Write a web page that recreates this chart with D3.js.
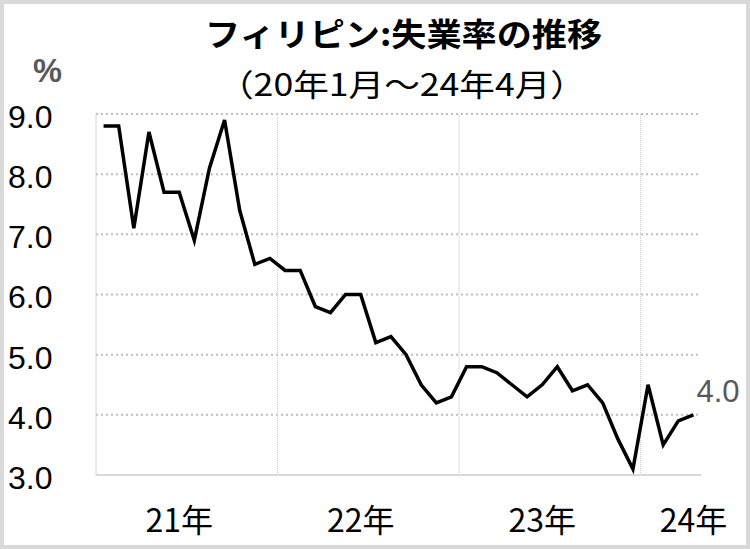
<!DOCTYPE html>
<html>
<head>
<meta charset="utf-8">
<script src="https://cdn.jsdelivr.net/npm/d3@7"></script>
<style>
  html, body { margin: 0; padding: 0; background: #fff; }
  svg { display: block; }
</style>
</head>
<body>
<svg id="chart" width="750" height="549"></svg>
<script>
// ---- data ----
const months = [
  "2021-01","2021-02","2021-03","2021-04","2021-05","2021-06","2021-07","2021-08","2021-09","2021-10","2021-11","2021-12",
  "2022-01","2022-02","2022-03","2022-04","2022-05","2022-06","2022-07","2022-08","2022-09","2022-10","2022-11","2022-12",
  "2023-01","2023-02","2023-03","2023-04","2023-05","2023-06","2023-07","2023-08","2023-09","2023-10","2023-11","2023-12",
  "2024-01","2024-02","2024-03","2024-04"
];
const unemployment = [
  8.8, 8.8, 7.1, 8.7, 7.7, 7.7, 6.9, 8.1, 8.9, 7.4, 6.5, 6.6,
  6.4, 6.4, 5.8, 5.7, 6.0, 6.0, 5.2, 5.3, 5.0, 4.5, 4.2, 4.3,
  4.8, 4.8, 4.7, 4.5, 4.3, 4.5, 4.8, 4.4, 4.5, 4.2, 3.6, 3.1,
  4.5, 3.5, 3.9, 4.0
];
const yearLabelMonths = ["2021-06", "2022-06", "2023-06", "2024-04"];
const yearLabels = ["21年", "22年", "23年", "24年"];
const yearStartMonths = ["2022-01", "2023-01", "2024-01"];
const yTicks = [3, 4, 5, 6, 7, 8, 9];
const title = "フィリピン:失業率の推移";
const subtitle = "（20年1月～24年4月）";
const unit = "%";

// ---- layout ----
const svg = d3.select("#chart");
const W = 750, H = 549;
const plot = { left: 96, right: 701, top: 114, bottom: 475 };

const x = d3.scaleBand().domain(months).range([plot.left, plot.right]).padding(0);
const y = d3.scaleLinear().domain([3, 9]).range([plot.bottom, plot.top]);
const cx = m => x(m) + x.bandwidth() / 2;

// outer frame
svg.append("rect")
  .attr("x", 2).attr("y", 2).attr("width", W - 4).attr("height", H - 4)
  .attr("fill", "#fff").attr("stroke", "#d9d9d9").attr("stroke-width", 4);

// horizontal gridlines (dotted)
svg.append("g").selectAll("line")
  .data(yTicks.filter(t => t > 3))
  .join("line")
  .attr("x1", plot.left).attr("x2", plot.right)
  .attr("y1", d => y(d)).attr("y2", d => y(d))
  .attr("stroke", "#bfbfbf").attr("stroke-width", 2)
  .attr("stroke-dasharray", "2,3");

// vertical gridlines at year boundaries
svg.append("g").selectAll("line")
  .data(yearStartMonths)
  .join("line")
  .attr("x1", d => x(d)).attr("x2", d => x(d))
  .attr("y1", plot.top).attr("y2", plot.bottom)
  .attr("stroke", "#c8c8c8").attr("stroke-width", 1)
  .attr("stroke-dasharray", "1,1");

// left axis line
svg.append("line")
  .attr("x1", plot.left).attr("x2", plot.left)
  .attr("y1", plot.top).attr("y2", plot.bottom)
  .attr("stroke", "#d0d0d0").attr("stroke-width", 1);

// bottom axis line
svg.append("line")
  .attr("x1", plot.left).attr("x2", plot.right)
  .attr("y1", plot.bottom).attr("y2", plot.bottom)
  .attr("stroke", "#d9d9d9").attr("stroke-width", 2);

// y axis labels
const yAxis = svg.append("g")
  .attr("transform", "translate(8,0)")
  .call(d3.axisRight(y).tickValues(yTicks).tickSize(0).tickPadding(0).tickFormat(d3.format(".1f")));
yAxis.select(".domain").remove();
yAxis.selectAll("text")
  .attr("dy", "0.42em")
  .attr("fill", "#000")
  .style("font-family", "'Liberation Sans', Arial, sans-serif")
  .style("font-size", "32px");

// x axis labels
const xAxis = svg.append("g")
  .attr("transform", `translate(0,${plot.bottom})`)
  .call(d3.axisBottom(x).tickValues(yearLabelMonths).tickSize(0).tickPadding(0)
    .tickFormat(d => yearLabels[yearLabelMonths.indexOf(d)]));
xAxis.select(".domain").remove();
xAxis.selectAll("text")
  .attr("dy", null)
  .attr("y", 57)
  .attr("fill", "#000")
  .style("font-family", "'Noto Sans CJK JP', sans-serif")
  .style("font-size", "32px");

// line
svg.append("path")
  .datum(unemployment)
  .attr("fill", "none")
  .attr("stroke", "#000")
  .attr("stroke-width", 3.5)
  .attr("stroke-linejoin", "miter")
  .attr("d", d3.line().x((d, i) => cx(months[i])).y(d => y(d)));

// end label
const lastVal = unemployment[unemployment.length - 1];
svg.append("text")
  .attr("x", cx(months[months.length - 1]) + 3)
  .attr("y", y(lastVal) - 13)
  .attr("fill", "#595959")
  .style("font-family", "'Liberation Sans', Arial, sans-serif")
  .style("font-size", "31px")
  .text(d3.format(".1f")(lastVal));

// unit
svg.append("text")
  .attr("x", 33).attr("y", 82)
  .attr("textLength", 29).attr("lengthAdjust", "spacingAndGlyphs")
  .attr("fill", "#595959")
  .style("font-family", "'Liberation Sans', Arial, sans-serif")
  .style("font-size", "34px")
  .style("font-weight", "bold")
  .text(unit);

// title
svg.append("text")
  .attr("x", 205).attr("y", 46)
  .attr("textLength", 397).attr("lengthAdjust", "spacingAndGlyphs")
  .attr("fill", "#000")
  .style("font-family", "'Noto Sans CJK JP', sans-serif")
  .style("font-size", "32px")
  .style("font-weight", "bold")
  .text(title);

// subtitle
svg.append("text")
  .attr("x", 218).attr("y", 96)
  .attr("textLength", 368).attr("lengthAdjust", "spacingAndGlyphs")
  .attr("fill", "#000")
  .style("font-family", "'Noto Sans CJK JP', sans-serif")
  .style("font-size", "31px")
  .text(subtitle);
</script>
</body>
</html>
